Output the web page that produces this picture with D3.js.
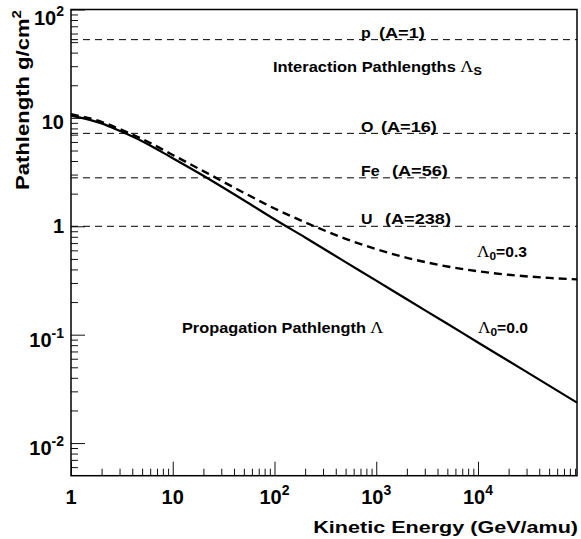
<!DOCTYPE html>
<html><head><meta charset="utf-8">
<script src="https://cdn.jsdelivr.net/npm/d3@7"></script>
<style>
body{margin:0;background:#fff}
text{font-family:"Liberation Sans",Arial,Helvetica,sans-serif;font-weight:bold;fill:#000}
.sym{font-family:"Liberation Serif","DejaVu Serif",serif;font-weight:normal}
</style>
</head><body><svg id="chart" width="581" height="539"></svg>
<script>
// ---- data ----
const energy        = [1, 2, 3, 5, 10, 20, 50, 100, 200, 500, 1000, 2000, 5000, 10000, 20000, 50000, 94000];
const pathLambda00  = [10.5, 8.9, 7.6, 6.1, 4.25, 2.93, 1.74, 1.16, 0.788, 0.467, 0.315, 0.212, 0.126, 0.0847, 0.0571, 0.0339, 0.0236];
const pathLambda03  = [10.8, 9.2, 7.9, 6.4, 4.55, 3.23, 2.04, 1.46, 1.088, 0.767, 0.615, 0.512, 0.426, 0.385, 0.357, 0.334, 0.324];
const species       = ["p", "O", "Fe", "U"];
const speciesMass   = ["(A=1)", "(A=16)", "(A=56)", "(A=238)"];
const speciesPath   = [52.7, 7.2, 2.8, 1.0];
const xTickValues   = [1, 10, 100, 1000, 10000];
const xTickBase     = ["1", "10", "10", "10", "10"];
const xTickExp      = ["", "", "2", "3", "4"];
const yTickValues   = [0.01, 0.1, 1, 10, 100];
const yTickBase     = ["10", "10", "1", "10", "10"];
const yTickExp      = ["-2", "-1", "", "", "2"];

// ---- layout ----
const L = 71, R = 577, T = 9.5, B = 475.7;
const svg = d3.select("#chart");
const x = d3.scaleLog().domain([1, 94000]).range([L, R]);
const y = d3.scaleLog().domain([0.005, 100]).range([B, T]);

function minorTicks(scale) {
  const [a, b] = scale.domain();
  const out = [];
  for (let k = Math.floor(Math.log10(a)); k <= Math.ceil(Math.log10(b)); k++) {
    for (let m = 2; m <= 9; m++) {
      const v = m * Math.pow(10, k);
      if (v > a * 1.0001 && v < b * 0.9999) out.push(v);
    }
  }
  return out;
}

// axes ticks (inward)
const gx = svg.append("g").attr("transform", `translate(0,${B})`);
gx.append("g").call(d3.axisBottom(x).tickValues(xTickValues).tickSize(-14).tickSizeOuter(0).tickFormat(""));
gx.append("g").call(d3.axisBottom(x).tickValues(minorTicks(x)).tickSize(-7).tickSizeOuter(0).tickFormat(""));
const gy = svg.append("g").attr("transform", `translate(${L},0)`);
gy.append("g").call(d3.axisLeft(y).tickValues(yTickValues).tickSize(-14).tickSizeOuter(0).tickFormat(""));
gy.append("g").call(d3.axisLeft(y).tickValues(minorTicks(y)).tickSize(-7).tickSizeOuter(0).tickFormat(""));
svg.selectAll(".domain").remove();
svg.selectAll(".tick line").attr("stroke", "#111").attr("stroke-width", 1);

// frame
svg.append("rect").attr("x", L).attr("y", T).attr("width", R - L).attr("height", B - T)
  .attr("fill", "none").attr("stroke", "#000").attr("stroke-width", 1.5);

// tick labels
xTickValues.forEach((v, i) => {
  const t = svg.append("text").attr("x", x(v)).attr("y", 503.5).attr("font-size", 20).attr("text-anchor", "middle");
  t.append("tspan").text(xTickBase[i]);
  if (xTickExp[i]) t.append("tspan").attr("font-size", 14).attr("dy", -9).text(xTickExp[i]);
});
const yLabelShift = [12, 12.5, 7.2, 11, 15];
yTickValues.forEach((v, i) => {
  const t = svg.append("text").attr("x", 64).attr("y", y(v) + yLabelShift[i]).attr("font-size", 20).attr("text-anchor", "end");
  t.append("tspan").text(yTickBase[i]);
  if (yTickExp[i]) t.append("tspan").attr("font-size", 14).attr("dy", -9).text(yTickExp[i]);
});

// helper: text stretched horizontally to fit a measured span
function fitted(x0, x1, yb, fs, build, anchor) {
  const g = svg.append("g");
  const t = g.append("text").attr("x", 0).attr("y", 0).attr("font-size", fs).attr("text-anchor", anchor || "start");
  build(t);
  const w = t.node().getBBox().width;
  const s = (x1 - x0) / w;
  const ax = anchor === "end" ? x1 : x0;
  g.attr("transform", `translate(${ax},${yb}) scale(${s},1)`);
  return g;
}
function stretched(xa, yb, fs, s, str) {
  const g = svg.append("g").attr("transform", `translate(${xa},${yb}) scale(${s},1)`);
  g.append("text").attr("font-size", fs).text(str);
}

// axis titles
fitted(313, 578, 532.7, 16.5, t => t.text("Kinetic Energy (GeV/amu)"), "end");
{
  const g = svg.append("g");
  const t = g.append("text").attr("font-size", 19).attr("text-anchor", "end");
  t.append("tspan").text("Pathlength g/cm");
  t.append("tspan").attr("font-size", 13).attr("dy", -8).text("2");
  const w = t.node().getBBox().width;
  g.attr("transform", `translate(29,10) rotate(-90) scale(${180 / w},1)`);
}

// interaction pathlength lines
speciesPath.forEach((v) => {
  svg.append("line").attr("x1", L).attr("x2", R).attr("y1", y(v)).attr("y2", y(v))
    .attr("stroke", "#000").attr("stroke-width", 1).attr("stroke-dasharray", "7,5");
});
const massX = [379, 381, 392, 385];
species.forEach((s, i) => {
  stretched(361, y(speciesPath[i]) - 1.8, 14.5, 1.1, s);
  stretched(massX[i], y(speciesPath[i]) - 1.8, 14.5, 1.25, speciesMass[i]);
});

// propagation curves
const line = d3.line().x(d => x(d[0])).y(d => y(d[1])).curve(d3.curveMonotoneX);
svg.append("path").datum(energy.map((e, i) => [e, pathLambda00[i]])).attr("d", line)
  .attr("fill", "none").attr("stroke", "#000").attr("stroke-width", 2.2);
svg.append("path").datum(energy.map((e, i) => [e, pathLambda03[i]])).attr("d", line)
  .attr("fill", "none").attr("stroke", "#000").attr("stroke-width", 2.4).attr("stroke-dasharray", "8,5");

// annotations
fitted(273, 482, 72, 14.5, t => {
  t.append("tspan").text("Interaction Pathlengths ");
  t.append("tspan").attr("class", "sym").attr("font-size", 16).text("\u039B");
  t.append("tspan").attr("font-size", 11).attr("dy", 3).text("S");
});
fitted(182, 384, 333, 14.5, t => {
  t.append("tspan").text("Propagation Pathlength ");
  t.append("tspan").attr("class", "sym").attr("font-size", 16).text("\u039B");
});
function lambdaLabel(x0, x1, yb, rest) {
  fitted(x0, x1, yb, 14.5, t => {
    t.append("tspan").attr("class", "sym").attr("font-size", 16).text("\u039B");
    t.append("tspan").attr("font-size", 11).attr("dy", 3).text("0");
    t.append("tspan").attr("dy", -3).text(rest);
  });
}
lambdaLabel(477, 527, 257, "=0.3");
lambdaLabel(478, 528, 333, "=0.0");
</script>
</body></html>
